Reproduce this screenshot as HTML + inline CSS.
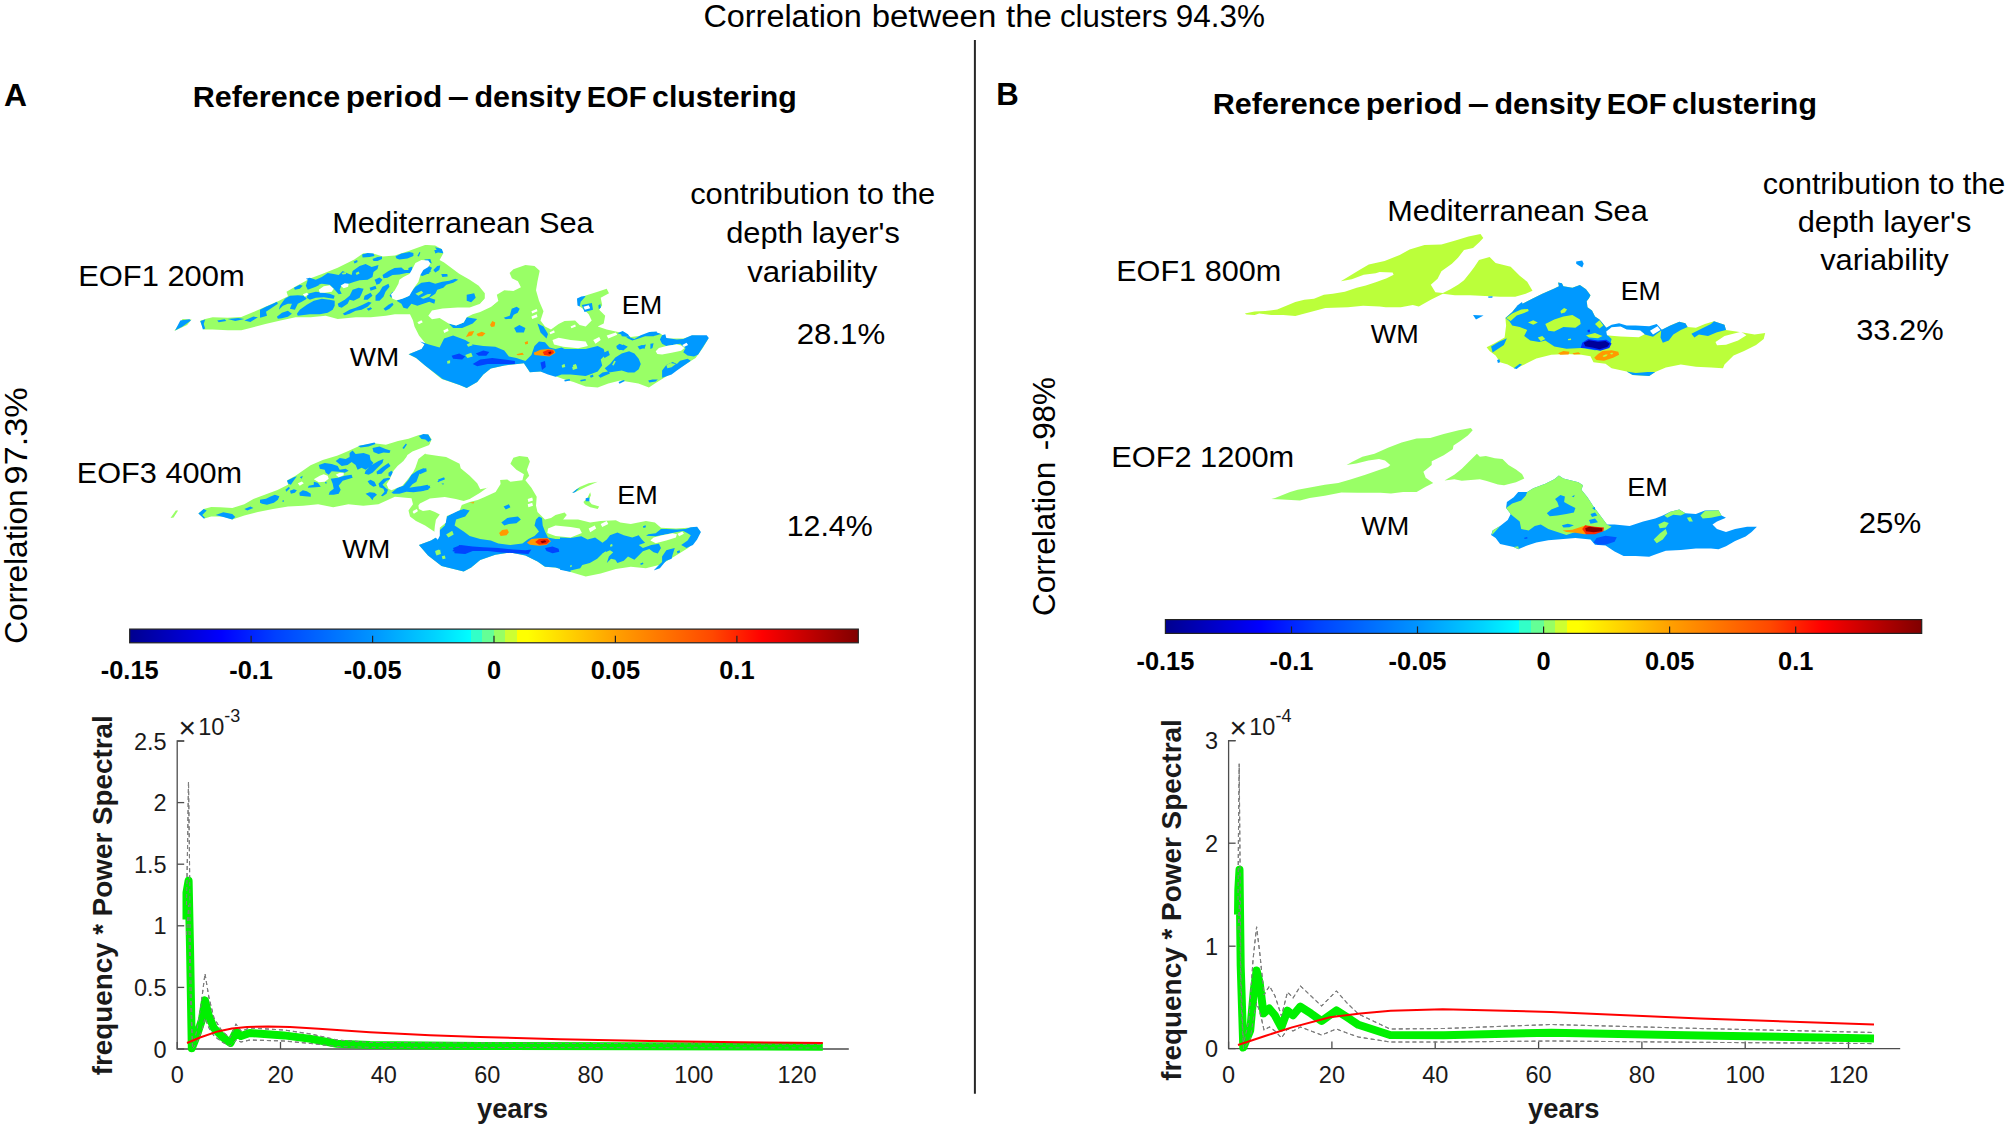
<!DOCTYPE html>
<html lang="en"><head><meta charset="utf-8"><title>Density EOF clustering – reference period</title>
<style>
html,body{margin:0;padding:0;background:#fff;}
body{width:2008px;height:1129px;overflow:hidden;font-family:"Liberation Sans", Arial, sans-serif;}
svg{display:block;}
text{white-space:pre;}
</style></head><body>
<svg width="2008" height="1129" viewBox="0 0 2008 1129" font-family='"Liberation Sans", Arial, sans-serif'>
<g id="labels">
<text x="703.4" y="27.2" font-size="31"><tspan x="703.4" textLength="158.5" lengthAdjust="spacingAndGlyphs">Correlation</tspan> <tspan x="871.7" textLength="124.6" lengthAdjust="spacingAndGlyphs">between</tspan> <tspan x="1006.0" textLength="45.8" lengthAdjust="spacingAndGlyphs">the</tspan> <tspan x="1060.0" textLength="107.6" lengthAdjust="spacingAndGlyphs">clusters</tspan> <tspan x="1175.7" textLength="89.2" lengthAdjust="spacingAndGlyphs">94.3%</tspan></text>
<text x="4.0" y="105.6" font-size="31" text-anchor="start" font-weight="bold" textLength="23.0" lengthAdjust="spacingAndGlyphs">A</text>
<text x="996.2" y="105.2" font-size="31" text-anchor="start" font-weight="bold" textLength="22.5" lengthAdjust="spacingAndGlyphs">B</text>
<text x="192.5" y="107.2" font-size="29.5" font-weight="bold"><tspan x="192.7" textLength="147.6" lengthAdjust="spacingAndGlyphs">Reference</tspan> <tspan x="345.7" textLength="96.6" lengthAdjust="spacingAndGlyphs">period</tspan> <tspan x="447.7" textLength="21.2" lengthAdjust="spacingAndGlyphs">–</tspan> <tspan x="474.4" textLength="106.8" lengthAdjust="spacingAndGlyphs">density</tspan> <tspan x="586.7" textLength="59.8" lengthAdjust="spacingAndGlyphs">EOF</tspan> <tspan x="652.1" textLength="144.7" lengthAdjust="spacingAndGlyphs">clustering</tspan></text>
<text x="1212.5" y="113.7" font-size="29.5" font-weight="bold"><tspan x="1212.7" textLength="147.7" lengthAdjust="spacingAndGlyphs">Reference</tspan> <tspan x="1365.7" textLength="96.7" lengthAdjust="spacingAndGlyphs">period</tspan> <tspan x="1467.7" textLength="21.3" lengthAdjust="spacingAndGlyphs">–</tspan> <tspan x="1494.4" textLength="106.9" lengthAdjust="spacingAndGlyphs">density</tspan> <tspan x="1606.7" textLength="59.9" lengthAdjust="spacingAndGlyphs">EOF</tspan> <tspan x="1672.1" textLength="144.8" lengthAdjust="spacingAndGlyphs">clustering</tspan></text>
<text x="27.2" y="644.0" font-size="31" transform="rotate(-90 27.2 644.0)"><tspan x="27.4" textLength="154.3" lengthAdjust="spacingAndGlyphs">Correlation</tspan> <tspan x="186.8" textLength="97.2" lengthAdjust="spacingAndGlyphs">97.3%</tspan></text>
<text x="1054.7" y="616.3" font-size="31" transform="rotate(-90 1054.7 616.3)"><tspan x="1054.9" textLength="154.3" lengthAdjust="spacingAndGlyphs">Correlation</tspan> <tspan x="1220.7" textLength="73.3" lengthAdjust="spacingAndGlyphs">-98%</tspan></text>
<text x="332.2" y="232.5" font-size="30.4" text-anchor="start" textLength="261.5" lengthAdjust="spacingAndGlyphs">Mediterranean Sea</text>
<text x="78.2" y="286.0" font-size="30.4" text-anchor="start" textLength="166.5" lengthAdjust="spacingAndGlyphs">EOF1 200m</text>
<text x="812.7" y="204.0" font-size="30.4" text-anchor="middle" textLength="245.1" lengthAdjust="spacingAndGlyphs">contribution to the</text>
<text x="813.0" y="242.5" font-size="30.4" text-anchor="middle" textLength="173.6" lengthAdjust="spacingAndGlyphs">depth layer's</text>
<text x="812.2" y="281.5" font-size="30.4" text-anchor="middle" textLength="130.1" lengthAdjust="spacingAndGlyphs">variability</text>
<text x="796.7" y="344.0" font-size="30.4" text-anchor="start" textLength="88.5" lengthAdjust="spacingAndGlyphs">28.1%</text>
<text x="621.7" y="314.0" font-size="25.5" text-anchor="start" textLength="40.5" lengthAdjust="spacingAndGlyphs">EM</text>
<text x="349.7" y="366.0" font-size="25.5" text-anchor="start" textLength="49.5" lengthAdjust="spacingAndGlyphs">WM</text>
<text x="76.7" y="482.5" font-size="30.4" text-anchor="start" textLength="165.5" lengthAdjust="spacingAndGlyphs">EOF3 400m</text>
<text x="617.2" y="504.0" font-size="25.5" text-anchor="start" textLength="40.5" lengthAdjust="spacingAndGlyphs">EM</text>
<text x="342.2" y="557.5" font-size="25.5" text-anchor="start" textLength="48.0" lengthAdjust="spacingAndGlyphs">WM</text>
<text x="786.7" y="536.0" font-size="30.4" text-anchor="start" textLength="86.0" lengthAdjust="spacingAndGlyphs">12.4%</text>
<text x="1387.2" y="221.0" font-size="30.4" text-anchor="start" textLength="260.5" lengthAdjust="spacingAndGlyphs">Mediterranean Sea</text>
<text x="1116.2" y="281.0" font-size="30.4" text-anchor="start" textLength="165.0" lengthAdjust="spacingAndGlyphs">EOF1 800m</text>
<text x="1884.0" y="194.0" font-size="30.4" text-anchor="middle" textLength="242.6" lengthAdjust="spacingAndGlyphs">contribution to the</text>
<text x="1884.5" y="231.5" font-size="30.4" text-anchor="middle" textLength="173.6" lengthAdjust="spacingAndGlyphs">depth layer's</text>
<text x="1884.5" y="270.0" font-size="30.4" text-anchor="middle" textLength="128.6" lengthAdjust="spacingAndGlyphs">variability</text>
<text x="1856.2" y="340.0" font-size="30.4" text-anchor="start" textLength="87.5" lengthAdjust="spacingAndGlyphs">33.2%</text>
<text x="1620.7" y="300.0" font-size="25.5" text-anchor="start" textLength="40.0" lengthAdjust="spacingAndGlyphs">EM</text>
<text x="1370.7" y="342.5" font-size="25.5" text-anchor="start" textLength="48.0" lengthAdjust="spacingAndGlyphs">WM</text>
<text x="1111.2" y="466.5" font-size="30.4" text-anchor="start" textLength="183.0" lengthAdjust="spacingAndGlyphs">EOF2 1200m</text>
<text x="1627.2" y="496.0" font-size="25.5" text-anchor="start" textLength="40.5" lengthAdjust="spacingAndGlyphs">EM</text>
<text x="1361.2" y="535.0" font-size="25.5" text-anchor="start" textLength="48.0" lengthAdjust="spacingAndGlyphs">WM</text>
<text x="1858.7" y="532.5" font-size="30.4" text-anchor="start" textLength="62.5" lengthAdjust="spacingAndGlyphs">25%</text>
</g>
<line x1="974.9" y1="40" x2="974.9" y2="1093.7" stroke="#262626" stroke-width="2"/>
<defs><linearGradient id="jet" x1="0" x2="1" y1="0" y2="0">
<stop offset="0" stop-color="#00008f"/><stop offset="0.126" stop-color="#0000ff"/>
<stop offset="0.2" stop-color="#0040ff"/><stop offset="0.333" stop-color="#0094ff"/>
<stop offset="0.42" stop-color="#00d4ff"/><stop offset="0.4682" stop-color="#00ffff"/>
<stop offset="0.4682" stop-color="#32ffc8"/><stop offset="0.4839" stop-color="#32ffc8"/>
<stop offset="0.4839" stop-color="#64ff96"/><stop offset="0.5003" stop-color="#64ff96"/>
<stop offset="0.5003" stop-color="#96ff64"/><stop offset="0.5155" stop-color="#96ff64"/>
<stop offset="0.5155" stop-color="#cdff32"/><stop offset="0.5309" stop-color="#cdff32"/>
<stop offset="0.5309" stop-color="#ffff00"/><stop offset="0.5461" stop-color="#ffff00"/>
<stop offset="0.667" stop-color="#ffa000"/>
<stop offset="0.8" stop-color="#ff4800"/><stop offset="0.868" stop-color="#ff0000"/>
<stop offset="1" stop-color="#800000"/></linearGradient></defs>
<g id="colorbars">
<rect x="129.7" y="629.1" width="728.6" height="13.7" fill="url(#jet)" stroke="#222" stroke-width="1.2"/>
<text x="129.7" y="678.5" font-size="25.4" text-anchor="middle" font-weight="bold">-0.15</text>
<line x1="251.1" y1="635.8" x2="251.1" y2="642.8" stroke="#222" stroke-width="1.2"/>
<text x="251.1" y="678.5" font-size="25.4" text-anchor="middle" font-weight="bold">-0.1</text>
<line x1="372.6" y1="635.8" x2="372.6" y2="642.8" stroke="#222" stroke-width="1.2"/>
<text x="372.6" y="678.5" font-size="25.4" text-anchor="middle" font-weight="bold">-0.05</text>
<line x1="494.0" y1="635.8" x2="494.0" y2="642.8" stroke="#222" stroke-width="1.2"/>
<text x="494.0" y="678.5" font-size="25.4" text-anchor="middle" font-weight="bold">0</text>
<line x1="615.4" y1="635.8" x2="615.4" y2="642.8" stroke="#222" stroke-width="1.2"/>
<text x="615.4" y="678.5" font-size="25.4" text-anchor="middle" font-weight="bold">0.05</text>
<line x1="736.9" y1="635.8" x2="736.9" y2="642.8" stroke="#222" stroke-width="1.2"/>
<text x="736.9" y="678.5" font-size="25.4" text-anchor="middle" font-weight="bold">0.1</text>
<rect x="1165.4" y="619.6" width="756.3" height="13.8" fill="url(#jet)" stroke="#222" stroke-width="1.2"/>
<text x="1165.4" y="669.6" font-size="25.4" text-anchor="middle" font-weight="bold">-0.15</text>
<line x1="1291.5" y1="626.4" x2="1291.5" y2="633.4" stroke="#222" stroke-width="1.2"/>
<text x="1291.5" y="669.6" font-size="25.4" text-anchor="middle" font-weight="bold">-0.1</text>
<line x1="1417.5" y1="626.4" x2="1417.5" y2="633.4" stroke="#222" stroke-width="1.2"/>
<text x="1417.5" y="669.6" font-size="25.4" text-anchor="middle" font-weight="bold">-0.05</text>
<line x1="1543.6" y1="626.4" x2="1543.6" y2="633.4" stroke="#222" stroke-width="1.2"/>
<text x="1543.6" y="669.6" font-size="25.4" text-anchor="middle" font-weight="bold">0</text>
<line x1="1669.6" y1="626.4" x2="1669.6" y2="633.4" stroke="#222" stroke-width="1.2"/>
<text x="1669.6" y="669.6" font-size="25.4" text-anchor="middle" font-weight="bold">0.05</text>
<line x1="1795.7" y1="626.4" x2="1795.7" y2="633.4" stroke="#222" stroke-width="1.2"/>
<text x="1795.7" y="669.6" font-size="25.4" text-anchor="middle" font-weight="bold">0.1</text>
</g>
<g id="maps"><g id="mapA1"><path d="M199.9 321.1L205.2 318.9L212.7 317.3L227.8 317.7L241.3 317.0L253.4 312.1L265.4 306.8L277.5 301.5L288.0 296.3L286.5 291.7L295.5 286.5L310.6 278.2L322.7 273.7L337.7 267.7L354.3 259.4L363.3 253.3L373.9 253.8L382.9 256.4L394.9 255.6L408.5 251.1L425.1 245.1L427.5 245.1L435.1 245.5L441.1 248.8L443.3 253.3L439.6 260.1L444.1 262.4L459.2 273.7L469.7 279.7L478.7 285.7L484.8 293.3L484.8 299.3L480.2 303.8L490.8 306.8L498.3 300.8L496.8 294.8L504.3 290.2L513.4 291.0L520.9 287.2L517.9 281.2L511.9 278.2L509.6 272.9L513.4 269.2L525.4 264.9L534.5 266.1L539.7 270.7L537.5 281.2L536.0 290.2L539.0 300.8L543.5 311.3L540.5 320.4L545.0 326.4L551.0 329.4L558.6 324.1L564.6 321.1L575.1 320.4L579.6 324.9L585.7 326.4L591.7 320.4L588.7 314.3L584.2 309.8L578.1 305.3L577.4 299.3L585.7 295.5L597.7 291.7L606.7 288.7L609.0 293.3L600.7 297.8L602.2 305.3L599.2 309.8L605.2 315.8L603.7 323.4L597.7 326.4L606.7 329.4L620.3 332.4L630.8 336.9L642.9 335.4L651.9 331.7L661.0 333.9L667.0 338.4L683.6 338.4L692.6 335.4L706.1 336.2L708.4 338.4L703.1 347.5L695.6 358.0L683.6 365.5L667.0 376.1L654.9 383.6L648.9 387.4L638.4 383.6L620.3 380.6L608.3 383.6L597.7 387.4L585.7 386.6L573.6 382.1L563.1 379.1L551.0 374.6L540.5 371.6L529.9 372.3L523.9 363.3L504.3 365.5L490.8 368.6L483.3 374.6L477.2 382.1L466.7 388.1L459.7 385.1L441.6 379.1L425.1 365.5L416.0 358.0L408.5 354.2L422.0 349.0L425.1 343.0L419.0 335.4L414.5 326.4L413.0 320.4L410.0 314.3L394.9 314.3L385.9 315.8L370.8 317.3L355.8 317.3L337.7 318.9L325.7 315.8L310.6 317.3L295.5 317.3L280.5 320.4L265.4 324.1L250.4 327.9L241.3 330.2L227.8 330.2L212.7 329.4L203.7 329.4ZM174.3 330.9L182.6 318.9L191.6 319.6L187.1 324.9Z" fill="#99ff66"/><path d="M420.0 341.4L429.0 344.5L439.6 347.5L444.1 338.4L453.1 335.4L465.2 339.9L472.7 344.5L483.3 346.0L495.3 346.7L504.3 350.5L508.9 356.5L516.4 358.0L525.4 361.0L531.4 355.0L534.5 346.0L539.0 341.4L545.0 342.2L549.5 347.5L555.5 349.0L561.6 347.5L564.6 349.0L570.6 349.0L585.7 349.0L597.7 346.0L603.7 349.0L605.2 355.0L600.7 359.5L602.2 365.5L597.7 371.6L585.7 376.1L570.6 374.6L561.6 374.6L555.5 376.8L548.0 374.6L540.5 371.6L529.9 372.3L523.9 363.3L504.3 365.5L490.8 368.6L483.3 374.6L477.2 382.1L466.7 388.1L459.6 385.1L442.6 379.1L425.0 365.5L416.2 358.0L408.7 354.2L421.5 349.0L424.5 344.5ZM420.0 269.2L426.0 264.6L432.0 267.7L429.0 273.7L420.0 275.2ZM466.7 294.8L474.2 293.3L475.7 297.8L471.2 302.3L466.7 300.8ZM448.6 323.4L456.1 325.6L463.7 322.6L466.7 317.3L477.2 318.9L472.7 323.4L462.2 327.9L453.1 327.9ZM511.7 308.7L516.7 306.7L519.7 308.7L517.7 312.7L513.7 314.7L511.7 318.7L505.7 319.2L503.7 317.7L509.7 315.7ZM514.1 327.9L519.4 324.9L525.4 327.9L523.9 332.4L516.4 332.4ZM537.5 323.4L543.5 326.4L548.0 333.9L546.5 338.4L540.5 332.4ZM620.3 332.4L630.8 336.9L621.8 336.2ZM648.9 332.7L654.9 331.7L661.0 333.9L654.9 335.7ZM577.4 299.3L585.7 296.3L579.6 303.0ZM582.7 305.3L590.2 303.8L591.7 308.3L585.7 311.3ZM435.1 247.3L441.1 248.8L443.3 253.3L438.1 252.6ZM602.2 353.5L608.3 350.5L609.8 355.0L604.5 358.0ZM618.8 349.0L623.3 344.5L627.8 346.7L623.3 350.5ZM639.9 346.0L645.9 344.5L644.4 349.0ZM668.5 365.5L676.0 364.0L674.5 370.1L668.5 371.6ZM616.3 345.9L619.5 343.8L622.7 344.9L623.8 348.0L619.5 350.2L616.9 348.6ZM637.6 346.4L641.9 344.9L645.1 345.4L644.0 348.0L639.7 349.6ZM650.4 343.8L653.6 343.3L652.5 348.0L650.4 349.1ZM617.4 333.2L622.7 331.0L628.0 334.2L630.2 337.4L634.4 339.0L640.8 335.3L649.3 332.1L656.7 331.6L657.3 334.2L653.6 336.3L645.1 336.3L638.7 338.5L632.3 340.6L628.0 338.5L623.8 335.3ZM662.1 335.3L665.3 334.2L666.3 337.9L676.9 339.5L683.3 339.0L691.8 335.3L706.7 335.3L708.8 337.9L698.2 354.4L694.0 356.5L687.6 355.5L683.3 352.3L685.5 348.0L680.1 343.8L666.3 345.9L662.1 343.8L659.9 339.5ZM662.1 370.4L666.3 365.1L672.7 361.9L676.9 364.0L680.1 360.8L687.6 358.7L690.8 360.8L676.9 370.4L671.6 374.6L662.1 377.8ZM648.2 380.5L652.5 379.4L657.8 379.4L655.7 381.5L649.3 382.6ZM618.5 382.1L623.8 379.9L624.9 381.0L619.5 383.7ZM598.3 375.7L602.5 372.5L607.8 371.4L610.0 373.6L604.7 375.7L600.4 377.8ZM589.8 375.7L593.0 374.6L593.5 376.7L590.8 377.8ZM577.0 298.6L581.3 296.5L585.5 295.9L581.3 299.1L579.7 306.6L577.5 305.5ZM581.8 305.0L591.9 302.9L593.0 309.8L584.5 311.9ZM598.3 305.5L600.4 303.9L600.9 307.6L598.8 309.2ZM604.7 368.2L610.0 364.0L615.3 357.6L621.7 353.4L629.1 351.2L634.4 353.4L638.7 358.7L640.8 364.0L638.7 369.3L634.4 372.5L628.0 372.5L621.7 370.4L615.3 371.4L608.9 372.5ZM564.3 379.9L569.6 378.9L570.1 380.5L564.8 381.5ZM580.2 379.9L585.5 378.9L586.0 380.5L580.7 381.5ZM362.1 254.4L367.6 252.9L373.5 253.4L374.5 255.9L369.6 256.9L362.6 257.4ZM372.5 258.9L377.5 256.9L382.0 256.4L382.0 258.9L377.5 260.9L373.5 260.9ZM353.6 261.4L357.1 259.9L357.6 261.9L354.6 263.4ZM352.6 270.9L359.6 265.9L365.6 263.9L371.6 266.9L378.5 264.9L377.5 268.9L373.5 271.9L372.5 276.9L367.6 279.8L359.6 280.3L354.6 281.8L348.6 283.8L341.7 284.8L339.7 289.8L341.7 293.8L338.7 294.3L334.7 289.8L329.7 284.8L321.8 283.8L315.8 286.8L307.8 289.8L305.8 285.8L307.8 279.8L305.8 278.8L309.8 277.8L315.8 279.8L321.8 276.9L327.7 272.9L333.7 273.9L338.7 274.9L342.7 270.9L346.7 272.9L351.6 274.9ZM293.9 287.8L299.8 284.8L302.8 285.8L299.8 288.8L294.9 289.8ZM296.9 313.7L299.8 309.7L306.8 304.7L313.8 300.8L321.8 298.8L329.7 299.8L334.7 300.8L334.7 305.7L332.7 309.7L327.7 312.7L319.8 314.2L309.8 314.2L301.8 315.2L297.8 315.7ZM307.8 293.8L315.8 291.8L323.7 292.8L329.7 293.8L334.7 295.8L333.7 298.8L323.7 297.3L315.8 297.8L309.8 299.8L306.8 297.8ZM260.0 309.7L266.0 306.7L272.9 303.7L276.9 301.8L277.9 303.7L272.0 307.7L266.0 311.7L267.0 315.7L262.0 317.2L260.0 317.7ZM284.9 298.8L289.9 295.8L297.8 295.3L303.8 295.8L306.8 298.8L301.8 301.8L297.8 303.7L294.9 309.7L289.9 308.7L291.9 303.7L287.9 303.7L282.9 305.7L278.9 309.7L279.9 305.7ZM276.9 316.7L281.9 312.7L287.9 310.7L291.9 313.7L287.9 316.7L281.9 318.2L277.9 318.7ZM337.7 303.7L344.7 299.8L349.6 295.8L352.6 289.8L358.6 287.8L363.6 288.8L361.6 293.8L359.6 297.8L353.6 300.8L349.6 299.8L347.6 303.7L341.7 307.7L338.7 306.7ZM342.7 313.7L349.6 309.7L355.6 307.7L362.6 304.7L368.6 301.8L371.6 302.7L367.6 306.7L361.6 309.7L355.6 310.7L349.6 313.7L344.7 315.2ZM374.5 279.8L379.5 277.4L382.5 279.8L379.5 283.8L376.5 284.8L375.5 281.8ZM382.5 274.9L388.5 270.9L394.5 267.9L401.4 267.4L404.4 269.9L409.4 269.9L412.4 266.9L411.4 272.9L406.4 272.9L399.4 274.4L392.5 274.9L387.5 277.8L383.5 278.3ZM375.5 295.8L379.5 291.8L382.5 286.8L388.5 283.8L389.5 286.8L385.5 291.8L383.5 296.8L379.5 300.8L375.5 300.8ZM383.5 308.7L388.5 304.7L392.5 302.7L393.5 304.7L389.5 308.7L385.5 310.7ZM366.6 308.7L370.6 307.2L372.1 308.7L368.6 310.7ZM396.5 300.8L401.4 298.8L407.4 296.8L411.4 291.8L415.4 286.8L421.4 282.8L429.3 281.8L435.3 283.8L442.3 281.8L449.2 280.8L455.2 278.8L458.2 279.8L453.2 282.8L446.3 284.8L443.3 287.8L437.3 289.8L435.3 293.8L429.3 297.8L435.3 299.8L434.3 303.7L429.3 301.8L423.3 303.7L417.4 305.7L411.4 303.7L407.4 308.7L403.4 307.7L401.4 303.7ZM395.5 256.4L401.4 253.4L409.4 252.0L413.4 252.9L413.4 255.9L407.4 258.4L399.4 259.4L396.5 258.4ZM434.3 250.0L438.3 248.0L441.8 249.0L443.3 252.9L439.3 252.0L435.3 253.4ZM421.4 271.9L425.3 268.9L429.3 268.9L431.3 270.9L427.3 273.9L422.4 275.9L419.4 274.9ZM433.3 269.9L437.3 265.9L440.3 265.4L439.3 269.9L435.3 272.4ZM441.3 273.9L447.3 273.9L447.7 276.4L442.3 276.9ZM424.3 259.4L430.3 258.9L431.8 263.4L429.3 262.4L425.3 260.9ZM408.4 267.9L412.4 266.4L411.4 270.9L408.4 271.9ZM417.4 255.9L419.4 252.0L420.4 252.5L418.9 256.4ZM369.6 287.8L375.5 285.8L376.5 288.8L370.6 290.8ZM364.6 295.8L370.6 292.8L372.5 295.8L367.6 299.8L363.6 299.8ZM389.5 295.8L392.5 291.8L394.0 293.8L391.5 297.8ZM180.3 320.4L189.4 319.2L190.9 320.4L182.6 326.4L175.1 330.6ZM200.4 321.1L205.2 319.6L203.7 324.1L205.2 328.6L202.9 329.4ZM227.8 318.9L238.3 318.1L244.3 318.9L235.3 321.1ZM244.3 320.4L253.4 316.6L257.9 317.3L250.4 321.9ZM217.2 320.4L224.8 319.2L226.3 321.1L218.7 322.2Z" fill="#0099ff"/><path d="M415.4 293.8L421.4 290.8L423.3 292.8L418.4 295.8ZM420.4 297.8L427.3 294.3L431.3 293.8L429.3 296.8L423.3 298.8ZM355.6 272.9L358.6 271.4L359.6 273.4L356.6 274.9ZM341.7 272.9L345.7 271.9L346.2 273.9L342.7 274.4ZM318.8 284.8L321.8 283.8L322.3 285.8L319.3 286.3ZM612.1 365.1L614.2 360.8L615.8 361.3L613.7 365.6ZM666.3 365.1L670.6 362.9L675.9 364.0L671.6 367.2L667.4 368.2ZM572.8 365.1L575.9 364.0L577.0 367.2L573.8 368.2ZM562.1 365.1L564.3 364.0L564.8 366.1L562.7 367.2ZM466.7 344.5L471.2 342.2L472.7 345.2L468.2 346.7ZM465.2 355.0L471.2 352.7L472.7 356.5L467.4 358.0ZM447.1 361.0L450.1 360.3L450.1 363.3L447.4 363.7ZM561.6 365.5L564.6 364.0L565.3 367.0L562.3 367.8ZM572.1 367.0L576.6 365.5L577.4 368.6L572.9 370.1Z" fill="#99ff66"/><path d="M451.6 355.8L459.2 353.5L465.2 356.5L462.2 359.5L453.1 358.8ZM472.7 364.0L480.2 359.5L492.3 358.0L504.3 359.5L514.9 361.0L514.9 364.0L501.3 364.0L487.8 364.0L477.2 366.3ZM475.7 353.5L483.3 350.5L489.3 352.0L486.3 355.8L478.7 355.8ZM540.5 362.5L545.0 361.0L545.8 367.0L542.0 370.1Z" fill="#0044ff"/><path d="M465.9 336.9L468.9 331.7L474.2 330.9L472.0 335.4ZM476.5 333.9L481.7 331.7L485.5 333.2L482.5 336.2L478.0 336.2ZM490.0 324.9L492.3 321.1L495.3 322.6L494.5 326.4L491.5 327.1ZM524.7 342.2L527.7 341.1L528.1 343.7L525.4 344.5ZM516.4 354.2L522.4 352.7L523.9 354.7L517.9 355.3ZM533.7 352.7L540.5 349.7L548.0 349.0L554.0 349.7L555.5 352.7L549.5 356.5L542.0 355.8L534.5 355.0Z" fill="#ff9a00"/><path d="M542.7 352.0L548.0 349.7L553.3 350.5L554.0 352.7L549.5 355.8L544.2 355.0Z" fill="#ff2a00"/><path d="M548.3 352.0L551.0 351.5L551.3 353.5L548.9 353.9Z" fill="#8a0000"/><path d="M415.4 262.9L421.4 259.9L428.3 260.4L430.3 263.4L428.3 266.9L423.3 269.9L420.4 274.9L418.4 281.8L413.4 288.8L409.4 295.8L402.4 298.8L396.5 300.3L392.5 298.8L391.0 294.3L394.5 290.8L398.4 283.8L399.4 279.8L403.4 276.9L409.4 273.9L412.4 268.9ZM318.8 289.8L323.7 286.3L329.7 285.3L333.7 288.8L331.7 291.8L324.7 292.8L319.8 292.8ZM340.7 285.8L344.7 283.3L348.6 283.8L348.1 286.8L343.7 288.3ZM302.8 294.3L306.8 292.8L308.8 294.3L304.8 296.8ZM417.4 322.2L421.4 320.2L422.8 322.2L418.9 324.2ZM443.3 330.6L447.3 328.6L448.2 331.1L444.3 333.1ZM498.3 300.8L490.8 307.1L480.2 312.1L472.7 314.3L466.7 317.3L463.7 322.6L456.1 325.6L448.6 323.4L439.6 318.1L432.0 319.2L428.3 315.8L432.0 310.6L442.6 308.6L457.7 307.6L469.7 307.6L480.2 303.8L484.8 298.5ZM552.5 339.9L558.6 337.7L570.6 339.9L585.7 341.4L587.9 346.0L578.1 348.2L563.1 346.7L554.0 344.5ZM593.2 339.9L599.2 336.9L600.7 339.9L595.5 343.7ZM606.7 335.4L615.8 332.4L617.3 334.7L608.3 338.4ZM655.7 351.2L658.9 348.0L666.3 345.9L676.9 344.3L681.2 345.4L684.4 348.0L681.2 350.7L671.6 352.8L662.1 354.4L657.3 353.9ZM682.3 344.9L686.5 342.7L688.1 344.9L683.9 347.0ZM531.4 311.3L536.7 309.1L537.5 311.3L532.2 313.6ZM531.4 316.6L536.7 314.3L537.5 317.0L532.2 318.9ZM583.4 306.8L588.7 305.3L590.2 308.3L584.9 309.8ZM444.1 330.2L447.9 328.6L448.6 330.9L444.8 332.4ZM549.5 332.4L554.0 330.2L554.8 332.4L550.3 334.2ZM570.6 326.4L575.1 324.6L575.9 326.4L571.4 328.2Z" fill="#ffffff"/></g><g id="mapA2"><path d="M198.4 513.4L203.7 508.9L211.2 507.0L220.2 507.3L232.3 508.1L244.3 504.3L253.4 499.1L265.4 494.5L277.5 490.0L288.0 484.8L287.3 480.2L295.5 475.7L310.6 465.2L322.7 459.9L337.7 455.4L348.3 450.9L360.3 445.6L373.9 443.3L385.9 444.8L398.0 441.1L408.5 438.8L419.0 435.1L428.1 434.3L431.8 439.6L429.6 444.8L425.1 453.9L438.6 456.1L446.1 456.9L459.6 463.7L460.7 468.2L469.7 475.7L477.2 483.3L480.2 489.3L495.3 486.3L496.8 480.2L507.3 479.5L510.4 481.7L522.4 480.2L523.9 474.2L516.4 469.7L510.4 463.7L513.4 457.7L519.4 456.1L527.7 456.9L529.9 461.4L526.9 469.7L529.2 475.7L525.4 480.2L531.4 487.8L536.7 496.8L536.0 505.8L537.5 511.9L545.0 519.4L551.0 517.9L555.5 514.9L564.6 512.6L566.8 514.9L563.1 519.4L578.1 519.4L590.2 522.4L600.7 520.9L615.8 520.2L620.3 522.4L630.8 523.9L645.9 520.9L654.9 522.4L661.0 527.7L676.0 528.4L688.1 527.7L697.1 527.2L700.4 532.2L695.6 540.5L688.1 548.0L676.0 555.5L661.0 564.6L645.9 568.3L630.8 566.8L615.8 569.1L600.7 573.6L585.7 576.6L570.6 572.1L555.5 567.6L545.0 566.8L537.5 561.6L525.4 555.5L510.4 552.5L495.3 554.8L480.2 560.1L471.2 567.6L463.7 571.4L459.7 570.6L441.6 566.1L428.1 555.5L419.0 545.0L431.1 540.5L438.6 536.0L434.1 531.4L425.1 525.4L416.0 520.9L410.0 516.4L408.5 510.4L413.0 504.3L411.5 498.3L394.9 496.8L378.4 504.3L363.3 505.8L348.3 504.3L333.2 507.3L318.1 504.3L303.1 505.8L288.0 506.6L273.0 508.9L257.9 511.9L244.3 515.6L232.3 519.4L223.3 516.4L211.2 516.4L204.4 518.6L200.7 514.9ZM170.5 517.9L175.8 510.4L178.1 510.4L173.6 517.6ZM572.1 493.0L579.6 487.0L588.7 483.3L597.7 481.7L585.7 487.0L576.6 491.5ZM583.4 502.1L587.2 498.3L590.2 492.3L590.9 495.3L588.7 500.6L591.7 504.3L599.2 506.6L597.7 508.9L590.2 507.3L584.9 504.3Z" fill="#99ff66"/><path d="M447.1 516.4L454.6 511.9L463.7 508.9L469.7 510.4L465.2 516.4L456.1 519.4L454.6 525.4L463.7 531.4L469.7 536.0L480.2 539.0L490.8 540.5L498.3 543.5L510.4 545.0L522.4 543.5L528.4 539.0L534.5 536.0L539.0 531.4L534.5 525.4L536.0 519.4L539.0 516.4L542.0 517.9L542.7 525.4L545.0 531.4L548.0 537.5L555.5 539.0L570.6 538.2L570.6 572.1L555.5 567.6L545.0 566.8L537.5 561.6L525.4 555.5L510.4 552.5L495.3 554.8L480.2 560.1L471.2 567.6L463.7 571.4L459.6 570.6L441.5 566.1L428.0 555.5L418.9 545.0L431.0 540.5L438.5 536.0L435.1 534.5L444.8 525.4L446.4 517.9ZM560.0 537.4L570.6 537.9L581.3 536.3L587.6 539.5L595.1 537.4L602.5 542.7L606.8 539.5L610.0 535.3L617.4 532.6L623.8 535.3L632.3 537.4L638.7 535.3L641.9 539.5L645.1 542.7L638.7 544.9L642.9 548.0L651.4 544.9L658.9 543.8L661.0 548.0L657.8 553.4L653.6 552.3L649.3 549.1L642.9 551.2L638.7 555.5L634.4 559.7L628.0 556.5L623.8 560.8L617.4 562.9L615.3 559.7L611.0 558.7L606.8 562.9L608.9 556.5L613.2 552.3L610.0 550.2L602.5 553.4L597.2 558.7L589.8 562.9L582.3 565.1L580.2 568.2L570.6 570.4L568.5 571.6L560.0 569.8ZM661.0 528.9L666.3 528.9L676.9 529.4L685.5 528.9L690.8 527.3L697.1 526.8L700.9 532.1L697.1 539.5L692.9 544.9L686.5 548.0L681.2 544.9L687.6 540.6L690.8 535.3L687.6 533.2L683.3 531.0L676.9 532.1L666.3 534.2L655.7 536.3L646.1 535.8L648.2 534.2L655.7 533.2ZM662.1 556.5L666.3 550.2L670.6 549.1L674.8 548.0L672.7 554.4L671.6 558.7L666.3 560.8L664.2 562.9L659.9 568.2L653.6 570.4L658.9 565.1L662.1 561.9ZM676.9 551.2L679.6 550.2L680.1 552.3L677.5 553.4ZM640.3 563.5L642.9 562.4L643.5 564.0L640.8 565.1ZM642.9 526.2L645.6 525.2L645.9 527.3L643.5 528.1ZM501.3 522.4L507.3 517.9L517.9 516.4L520.9 519.4L516.4 523.2L508.9 523.9L504.3 525.4ZM503.6 506.6L508.9 504.3L510.4 507.3L505.8 509.6ZM420.0 469.7L426.0 468.2L426.8 471.2L420.0 474.2ZM420.0 486.3L427.5 484.8L430.5 487.8L424.5 490.8L420.0 491.5ZM438.1 479.5L444.1 477.2L444.8 479.5L438.8 481.7ZM585.7 498.3L589.4 497.6L589.4 501.3L585.7 501.3ZM572.1 493.0L576.6 489.3L579.6 487.8L575.1 492.3ZM418.9 436.0L423.3 434.0L428.3 434.5L431.3 440.0L428.3 442.0L425.3 439.5L421.4 439.0ZM358.1 445.9L365.6 444.4L374.5 442.5L375.5 443.9L368.6 446.4L360.6 447.4ZM372.5 447.9L379.5 446.4L385.5 448.9L390.5 450.4L389.5 452.9L383.5 452.4L378.5 453.9L373.5 451.9ZM349.6 452.9L352.6 450.4L355.6 453.9L363.6 452.9L369.6 454.9L370.6 459.9L373.5 462.9L369.6 466.9L365.6 469.8L361.6 467.8L357.6 469.8L355.6 464.9L351.6 461.9L347.6 464.9L341.7 465.9L335.7 460.9L339.7 457.9L345.7 458.9L349.6 456.9ZM318.8 464.9L324.7 462.9L331.7 463.9L337.7 465.9L339.7 469.8L345.7 468.8L348.6 470.8L344.7 472.8L338.7 471.8L331.7 471.3L328.7 474.8L325.7 472.8L324.7 469.8L319.8 468.8ZM365.6 470.8L371.6 464.9L378.5 460.9L383.5 458.9L382.5 462.9L377.5 467.8L372.5 472.8L368.6 474.8L364.6 473.8ZM376.5 471.8L382.5 466.9L388.5 462.9L390.5 465.9L385.5 469.8L381.5 473.8L377.0 474.3ZM388.5 472.8L391.5 470.8L393.0 472.8L390.5 476.8L388.5 475.8ZM400.4 463.9L403.9 460.9L405.4 462.9L402.4 465.4ZM402.4 447.9L405.9 443.4L406.9 444.4L403.9 448.9ZM286.9 480.8L293.9 477.3L296.9 476.3L292.9 481.8L290.9 484.8L288.4 483.8ZM299.8 477.3L302.8 475.8L301.8 478.8ZM313.8 481.8L317.8 482.8L320.8 486.8L315.8 487.3L307.8 487.8L308.8 485.8L313.8 484.8ZM330.7 478.8L337.7 477.8L344.7 475.8L351.6 474.8L352.6 477.8L347.6 479.3L342.7 480.8L338.7 485.8L340.7 489.8L338.7 493.7L333.7 494.7L328.7 494.7L329.7 491.8L333.7 488.8L332.7 483.8ZM289.9 490.8L293.9 489.3L296.9 490.3L294.9 492.7L290.9 493.7ZM299.3 492.7L302.8 490.3L306.8 491.3L310.8 493.7L310.8 496.7L304.8 496.2L299.8 495.7ZM285.4 489.8L288.9 486.8L289.9 488.3L286.4 491.8ZM260.0 499.7L266.0 498.7L270.0 496.7L274.9 494.7L279.4 496.2L277.9 499.7L273.9 502.7L267.0 504.7L262.0 503.7L260.0 502.7ZM282.4 500.5L283.9 500.2L283.9 501.7L282.4 501.7ZM367.6 481.3L370.6 479.8L374.5 481.8L376.5 485.8L373.5 486.8L369.6 484.3ZM365.6 493.7L369.6 492.3L374.5 492.7L377.0 494.7L373.5 497.7L372.5 500.2L369.6 496.7ZM378.5 483.8L383.5 478.8L388.5 477.8L391.5 478.8L386.5 480.8L382.5 484.8L385.5 487.8L388.0 489.8L386.5 493.7L382.5 496.2L381.0 495.7L384.5 491.8L383.5 488.8L379.5 487.3ZM391.5 492.7L397.5 487.8L403.4 485.8L408.4 479.8L411.4 474.8L417.4 470.8L423.3 468.3L426.8 468.8L425.3 471.3L419.4 473.8L417.9 477.8L416.4 481.8L412.4 484.3L409.4 487.8L415.4 486.8L423.3 485.8L430.3 485.8L428.3 489.8L421.4 491.3L413.4 492.3L406.4 491.8L399.4 493.7L393.5 493.7ZM437.3 481.3L441.3 478.8L445.3 478.3L441.8 480.3L438.3 482.3ZM441.3 483.8L443.8 483.3L443.3 484.8ZM324.7 482.3L326.7 481.8L326.2 484.3ZM215.7 514.9L223.3 512.2L232.3 514.1L235.3 517.1L232.3 519.4L223.3 517.1ZM198.4 513.4L203.7 508.9L206.7 510.4L202.2 514.9L205.2 517.9L203.7 518.6ZM244.3 508.9L250.4 506.6L253.4 508.1L247.3 510.4Z" fill="#0099ff"/><path d="M441.8 556.3L444.8 555.5L445.6 558.6L442.6 559.3ZM435.1 551.0L438.8 549.5L439.6 553.3L435.8 554.0ZM610.0 544.9L612.1 543.8L612.6 545.9L610.5 547.0ZM602.5 553.4L605.7 551.2L606.8 554.4L603.6 556.5ZM570.1 565.6L571.7 565.1L571.9 566.6L570.3 567.2ZM446.1 534.5L452.2 530.7L453.7 534.5L448.4 537.5ZM435.6 552.5L440.1 549.5L440.9 554.0L436.4 555.5Z" fill="#99ff66"/><path d="M453.1 548.0L460.7 545.0L472.7 546.5L483.3 547.3L498.3 548.0L513.4 549.5L525.4 550.3L531.4 549.5L528.4 554.0L516.4 553.3L501.3 552.5L487.8 551.0L472.7 551.0L465.2 554.0L454.6 553.3ZM545.0 548.0L552.5 546.5L558.6 548.8L559.3 551.8L552.5 553.3L546.5 551.0ZM452.2 551.0L459.7 545.0L459.7 553.3Z" fill="#0044ff"/><path d="M499.1 533.0L502.1 529.9L507.3 529.2L508.9 532.2L506.6 535.2L500.6 536.0ZM526.9 542.7L531.4 539.0L539.0 538.2L548.0 538.2L551.0 541.2L546.5 545.0L539.0 545.8L529.9 544.7ZM469.7 502.8L474.2 502.1L473.5 503.6Z" fill="#ff9a00"/><path d="M535.2 542.0L539.0 539.0L547.3 538.7L549.8 541.2L546.5 544.2L539.0 544.7Z" fill="#ff2a00"/><path d="M540.5 541.2L545.0 540.2L546.5 542.0L542.0 543.2Z" fill="#8a0000"/><path d="M437.3 444.9L431.3 449.9L425.3 453.4L418.4 458.9L415.4 467.8L413.4 471.8L407.4 479.8L402.4 485.8L397.5 487.8L391.5 490.3L388.5 488.8L386.5 484.3L389.5 479.8L393.5 470.8L397.5 465.9L403.4 460.9L406.4 456.9L407.4 454.9L412.4 451.4L421.4 447.9L429.3 444.9L431.8 439.5ZM419.9 503.4L429.9 498.4L444.8 497.1L455.8 498.9L463.7 501.1L469.7 498.9L479.7 492.9L489.6 486.0L495.6 480.0L499.6 476.0L500.6 484.0L495.6 492.0L484.7 496.9L477.7 499.9L469.7 502.1L461.8 505.1L459.8 509.9L453.8 512.9L446.8 515.9L445.8 522.8L439.8 527.8L439.8 535.8L437.8 539.8L433.9 535.8L434.9 525.8L435.9 519.8L439.8 514.4L434.9 511.9L429.9 509.9L422.9 510.9L418.9 508.9L418.4 505.4ZM412.9 510.9L416.9 508.9L417.9 510.9L413.9 512.9ZM548.0 528.4L555.5 525.4L570.6 526.9L579.6 528.4L581.9 533.0L570.6 537.5L555.5 536.0L547.3 533.0ZM588.7 528.4L594.7 525.4L596.2 528.4L590.2 532.2ZM600.7 523.9L606.7 520.9L608.3 523.9L602.2 526.9ZM650.4 540.6L653.6 537.4L662.1 535.3L672.7 533.2L676.9 534.2L675.9 537.4L666.3 540.6L655.7 543.3ZM677.5 533.7L682.3 531.6L683.9 533.7L679.1 536.3ZM527.7 499.1L532.2 497.6L533.0 500.6L528.4 502.1ZM527.7 504.3L532.2 502.8L533.0 505.8L528.4 507.3ZM313.8 479.3L319.8 475.8L323.7 474.3L327.7 475.8L328.7 478.8L324.7 481.8L318.8 482.3ZM335.7 474.8L339.7 472.8L343.7 472.8L343.7 475.3L338.7 477.3ZM297.8 483.3L301.8 481.6L303.8 483.3L299.8 485.8ZM412.4 511.7L416.4 509.2L417.9 511.2L413.9 513.7Z" fill="#ffffff"/></g><g id="mapB1"><path d="M1244.8 313.4L1254.6 311.4L1265.2 311.1L1277.2 309.6L1286.3 305.8L1295.3 302.1L1304.3 299.8L1314.0 298.8L1323.9 294.8L1332.8 293.8L1344.8 291.8L1356.7 287.8L1365.8 285.4L1375.7 282.3L1386.7 278.3L1393.6 274.8L1392.6 272.4L1379.6 272.1L1375.7 273.3L1363.7 274.8L1351.8 279.3L1340.8 281.3L1347.9 276.9L1359.8 269.8L1368.8 264.4L1384.6 261.0L1399.7 254.9L1409.6 249.5L1424.5 245.0L1441.4 244.5L1455.4 240.5L1468.5 236.6L1480.5 233.9L1483.3 238.1L1479.0 242.6L1473.0 247.9L1464.0 250.1L1458.0 257.7L1451.9 263.7L1441.4 271.2L1437.6 278.7L1430.8 284.8L1435.4 292.3L1442.9 293.0L1450.4 289.3L1458.0 284.8L1464.0 280.2L1470.0 272.7L1474.5 266.7L1479.0 259.9L1489.6 256.9L1495.6 262.9L1510.7 266.7L1519.7 275.7L1527.2 281.7L1532.5 290.8L1525.7 293.8L1515.2 296.8L1500.1 296.8L1485.1 296.1L1470.0 295.3L1454.9 295.3L1442.9 293.8L1430.8 299.8L1418.8 306.6L1412.8 305.1L1400.7 307.3L1385.7 307.3L1379.6 306.6L1363.1 305.8L1348.0 307.3L1325.4 308.1L1310.4 311.9L1295.3 316.1L1283.3 314.9L1271.2 314.9L1259.2 313.4L1254.6 314.9L1246.4 314.6ZM1486.6 347.3L1494.1 343.5L1504.6 337.5L1506.1 325.4L1505.4 317.9L1512.2 311.9L1516.7 306.6L1530.2 299.8L1542.3 293.8L1554.3 288.5L1558.9 286.3L1558.1 282.5L1561.9 283.3L1563.4 286.3L1572.4 287.8L1579.9 285.1L1586.0 289.3L1590.5 295.3L1589.0 298.3L1586.7 301.3L1587.5 307.3L1592.0 310.4L1595.0 316.4L1599.5 319.4L1603.3 323.9L1606.3 327.7L1611.6 325.4L1619.1 323.9L1626.6 326.2L1635.7 326.6L1649.2 327.7L1656.7 325.4L1661.3 329.9L1670.3 325.4L1679.3 321.7L1685.4 323.2L1687.6 326.9L1695.9 327.7L1704.9 323.9L1714.0 321.2L1724.5 324.7L1726.0 329.9L1741.1 332.2L1754.6 334.5L1765.2 333.0L1763.7 339.0L1756.1 345.0L1744.1 351.0L1733.6 355.5L1724.5 364.6L1723.0 368.3L1711.0 367.6L1695.9 366.8L1680.8 364.6L1665.8 367.6L1655.2 372.1L1649.2 375.9L1632.7 375.1L1626.6 371.4L1611.6 368.3L1605.5 363.8L1593.5 362.3L1590.5 356.3L1581.4 354.8L1566.4 354.0L1551.3 354.8L1536.3 358.6L1527.2 363.1L1519.7 366.8L1514.4 368.3L1507.7 364.6L1500.1 362.3L1495.6 355.5L1489.6 351.0Z" fill="#bbff3a"/><path d="M1505.4 317.9L1512.2 311.9L1516.7 306.6L1530.2 299.8L1542.3 293.8L1554.3 288.5L1558.9 286.3L1558.1 282.5L1561.9 283.3L1563.4 286.3L1572.4 287.8L1579.9 285.1L1586.0 289.3L1590.5 295.3L1589.0 298.3L1586.7 301.3L1587.5 307.3L1592.0 310.4L1595.0 316.4L1599.5 319.4L1603.3 323.9L1606.3 327.7L1607.0 334.5L1611.6 339.0L1610.1 345.0L1602.5 349.5L1595.0 350.3L1581.4 348.0L1566.4 348.8L1554.3 346.5L1545.3 340.5L1539.3 342.0L1530.2 340.5L1524.2 336.0L1527.2 329.9L1519.7 326.9L1512.2 325.4L1509.2 320.9ZM1606.3 327.7L1611.6 324.7L1619.1 323.2L1626.6 325.4L1635.7 325.4L1649.2 326.2L1656.7 323.9L1662.0 329.9L1653.0 336.7L1644.7 334.5L1640.2 330.7L1626.6 329.9L1620.6 326.9L1611.6 327.7L1607.0 333.0ZM1661.3 329.9L1670.3 325.4L1679.3 321.7L1685.4 323.2L1687.6 326.9L1680.8 329.9L1673.3 334.5L1668.8 340.5L1662.8 342.7L1660.5 337.5ZM1691.4 333.7L1701.9 328.4L1711.0 323.9L1714.0 321.2L1724.5 324.7L1726.0 329.9L1717.0 332.2L1708.0 336.0L1698.9 334.5L1694.4 337.5ZM1635.7 372.9L1647.7 372.1L1655.2 372.1L1649.2 375.9L1632.7 375.1L1626.6 371.4ZM1491.1 346.5L1498.6 342.0L1506.9 338.2L1503.9 345.0L1497.1 349.5L1492.6 352.5ZM1513.7 368.3L1519.7 363.8L1522.0 364.6L1516.7 369.1ZM1497.1 360.1L1499.4 359.3L1500.1 362.3L1497.9 363.1ZM1473.0 314.9L1483.6 315.6L1476.0 319.4ZM1576.2 261.4L1582.2 260.4L1583.7 263.7L1582.2 267.4L1578.4 265.2L1576.2 263.7ZM1488.1 296.5L1492.6 296.2L1492.3 297.7L1488.4 297.7ZM1516.7 306.1L1522.0 302.1L1522.7 304.3L1518.2 308.1Z" fill="#0099ff"/><path d="M1545.3 323.9L1554.3 319.4L1563.4 316.4L1572.4 314.9L1579.9 319.4L1580.7 323.9L1575.4 327.7L1563.4 326.9L1554.3 331.4L1548.3 330.7ZM1560.4 311.1L1564.1 308.1L1567.1 309.6L1564.9 312.6L1561.1 313.4ZM1528.0 322.4L1533.3 320.2L1537.8 322.4L1533.3 324.7ZM1586.0 335.2L1595.0 333.0L1602.5 336.0L1598.0 338.2L1589.0 337.5ZM1506.1 317.9L1512.2 313.4L1521.2 309.6L1528.0 308.9L1528.7 311.1L1522.7 313.4L1516.7 315.6L1510.7 320.9ZM1595.0 323.9L1599.5 320.2L1603.3 325.4L1599.5 328.4ZM1537.8 337.5L1542.3 336.0L1545.3 339.0L1540.8 341.2ZM1567.9 339.0L1570.9 338.5L1571.2 340.0L1568.2 340.2Z" fill="#bbff3a"/><path d="M1580.7 348.0L1582.2 342.7L1588.2 339.0L1598.0 340.5L1606.3 339.7L1611.6 343.5L1609.3 348.0L1600.3 350.7L1592.7 349.2L1585.2 348.0ZM1587.5 329.9L1589.7 329.6L1590.0 332.2L1587.8 332.2Z" fill="#0030ff"/><path d="M1583.7 342.7L1589.0 340.2L1598.0 341.7L1605.5 340.9L1609.8 343.8L1607.3 347.0L1599.5 349.2L1593.5 347.7L1585.2 346.2Z" fill="#00009a"/><path d="M1558.1 353.3L1563.4 351.0L1569.4 351.8L1568.6 354.5L1560.4 354.8ZM1572.4 353.3L1578.4 352.2L1580.7 354.0L1573.9 354.5ZM1594.2 357.8L1598.0 354.0L1602.5 351.0L1611.6 350.3L1618.3 351.8L1619.1 354.8L1613.1 357.8L1604.0 360.8L1596.5 360.1Z" fill="#ff9a00"/><path d="M1602.5 356.0L1605.5 354.5L1607.8 354.5L1606.3 356.3L1603.7 357.0ZM1610.1 353.3L1612.3 352.5L1613.1 354.0L1611.0 354.5Z" fill="#bbff3a"/><path d="M1606.3 331.4L1611.6 327.2L1620.6 326.6L1626.6 329.6L1640.2 330.4L1644.7 334.2L1638.7 337.2L1620.6 336.4L1611.6 335.7L1607.0 335.2ZM1650.0 330.7L1657.5 326.2L1660.5 329.9L1653.0 334.5ZM1715.5 342.0L1724.5 336.0L1735.1 333.3L1741.1 331.7L1746.4 335.2L1738.1 340.5L1726.0 344.7L1717.0 345.3Z" fill="#ffffff"/></g><g id="mapB2"><path d="M1271.3 498.9L1275.1 498.1L1290.1 492.1L1297.7 489.8L1312.7 487.1L1324.8 484.8L1338.3 483.0L1350.4 479.6L1365.4 474.8L1380.5 469.6L1388.0 466.9L1390.3 465.0L1385.0 460.5L1379.0 458.9L1368.4 460.5L1356.4 463.5L1346.6 465.0L1351.9 462.0L1362.4 456.7L1374.5 453.7L1388.0 447.7L1401.6 442.4L1416.6 438.6L1430.2 437.9L1443.7 434.1L1458.8 430.3L1470.8 428.1L1472.7 430.3L1467.8 435.6L1460.3 440.9L1453.5 445.4L1452.8 449.2L1443.7 455.2L1431.7 461.2L1431.7 465.0L1423.4 471.7L1425.7 477.8L1433.2 483.0L1425.7 486.8L1416.6 492.1L1403.1 492.1L1391.0 493.6L1380.5 492.8L1357.9 492.8L1341.3 492.5L1324.8 495.8L1309.7 498.1L1299.9 500.4L1282.6 499.6ZM1444.5 480.5L1454.3 474.8L1461.8 468.7L1469.3 461.2L1476.9 453.7L1479.9 456.7L1485.9 455.9L1494.9 458.2L1502.5 458.9L1508.5 465.0L1516.0 469.5L1522.0 474.0L1524.3 478.5L1516.0 482.3L1504.0 485.3L1498.0 484.5L1485.9 480.8L1479.9 479.3L1470.8 480.0L1461.8 480.8L1454.3 479.3Z" fill="#99ff66"/><path d="M1492.6 530.5L1500.1 526.0L1507.7 519.9L1510.7 513.9L1506.1 507.9L1506.9 501.9L1513.7 497.3L1518.2 492.1L1527.2 492.1L1533.3 488.3L1545.3 483.8L1554.3 479.3L1558.9 475.5L1563.4 478.5L1572.4 480.8L1578.4 482.3L1583.0 485.3L1581.4 489.8L1587.5 497.3L1593.5 506.4L1598.0 512.4L1602.5 518.4L1607.0 524.5L1614.6 524.5L1629.6 526.0L1643.2 521.4L1655.2 518.4L1662.8 515.4L1670.3 511.7L1679.3 509.4L1685.4 513.2L1695.9 513.9L1704.9 510.6L1718.5 510.2L1721.5 515.4L1726.0 517.7L1717.0 521.4L1712.5 524.5L1717.0 529.0L1726.0 532.0L1735.1 529.0L1747.1 526.7L1756.9 526.7L1751.6 532.0L1745.6 536.5L1735.1 541.0L1726.0 546.3L1718.5 549.3L1711.0 548.6L1695.9 548.6L1680.8 550.1L1665.8 550.8L1655.2 554.6L1649.2 556.8L1635.7 556.1L1623.6 556.1L1614.6 551.6L1605.5 545.5L1595.0 544.8L1590.5 539.5L1575.4 538.0L1566.4 538.8L1548.3 540.3L1536.3 542.5L1527.2 545.5L1518.2 549.3L1513.7 547.0L1500.1 544.0L1495.6 538.0L1491.1 535.0Z" fill="#0099ff"/><path d="M1506.1 507.9L1512.2 503.4L1521.2 500.4L1525.7 495.8L1527.2 492.1L1533.3 488.3L1545.3 483.8L1554.3 479.3L1558.9 475.5L1563.4 478.5L1572.4 480.8L1578.4 482.3L1583.0 485.3L1581.4 489.8L1587.5 497.3L1593.5 506.4L1598.0 512.4L1602.5 518.4L1607.0 524.5L1611.6 526.7L1605.5 530.5L1598.0 532.0L1590.5 529.0L1581.4 529.0L1575.4 532.0L1566.4 535.0L1557.3 532.0L1548.3 529.0L1540.8 524.5L1534.8 526.0L1528.7 530.5L1521.2 529.0L1519.7 521.4L1512.2 515.4L1510.7 513.9ZM1492.6 530.5L1500.1 526.0L1494.8 532.0L1491.8 535.0ZM1513.7 547.0L1518.2 546.3L1518.9 549.3ZM1658.3 524.5L1664.3 521.4L1668.8 523.0L1665.8 527.5L1659.8 528.2ZM1653.7 539.5L1659.8 533.5L1665.8 529.0L1667.3 533.5L1662.8 539.5L1656.7 543.3ZM1664.3 515.4L1670.3 511.7L1679.3 509.4L1685.4 513.2L1680.8 515.4L1673.3 514.7L1667.3 517.7ZM1686.9 517.7L1690.6 516.9L1692.9 521.4L1689.1 521.4ZM1700.4 515.4L1704.9 510.9L1718.5 510.2L1721.5 515.4L1711.0 517.7L1702.7 518.4Z" fill="#99ff66"/><path d="M1555.1 498.9L1560.4 495.1L1564.9 496.6L1564.1 501.9L1569.4 504.9L1575.4 507.9L1573.9 512.4L1566.4 513.9L1557.3 515.4L1549.8 516.2L1546.8 513.2L1551.3 509.4L1558.9 506.4L1557.3 501.9ZM1571.7 496.6L1574.7 495.1L1573.9 497.3ZM1561.9 525.2L1567.9 523.7L1573.9 525.2L1569.4 527.2L1563.4 527.5ZM1590.5 513.9L1595.0 512.4L1597.3 515.4L1592.0 516.9ZM1589.0 519.9L1595.0 518.4L1598.0 522.2L1590.5 523.7ZM1592.0 507.9L1595.0 507.1L1595.0 510.2Z" fill="#0099ff"/><path d="M1593.5 542.5L1596.5 538.0L1605.5 535.8L1616.8 537.3L1614.6 541.8L1605.5 544.8L1598.0 544.8ZM1524.2 537.7L1527.2 537.0L1527.5 538.5L1524.5 538.9Z" fill="#0055ff"/><path d="M1562.6 530.5L1572.4 529.7L1581.4 526.7L1586.0 525.2L1590.5 530.5L1595.0 533.5L1584.5 534.2L1575.4 532.7L1566.4 532.0Z" fill="#ff9a00"/><path d="M1582.2 529.0L1585.2 525.2L1595.0 526.7L1604.0 527.5L1603.3 531.2L1595.0 534.2L1586.0 534.2Z" fill="#ff2a00"/><path d="M1585.2 528.2L1589.0 526.7L1602.5 528.2L1601.8 531.2L1593.5 532.3L1586.0 531.2Z" fill="#8a0000"/></g></g>
<path d="M184.2 741.0H177.2V1049.0H848.8" fill="none" stroke="#4d4d4d" stroke-width="1.3"/>
<line x1="177.2" y1="741.0" x2="184.2" y2="741.0" stroke="#4d4d4d" stroke-width="1.3"/>
<text x="166.7" y="749.6" font-size="23.5" text-anchor="end" fill="#1a1a1a">2.5</text>
<line x1="177.2" y1="802.6" x2="184.2" y2="802.6" stroke="#4d4d4d" stroke-width="1.3"/>
<text x="166.7" y="811.2" font-size="23.5" text-anchor="end" fill="#1a1a1a">2</text>
<line x1="177.2" y1="864.2" x2="184.2" y2="864.2" stroke="#4d4d4d" stroke-width="1.3"/>
<text x="166.7" y="872.8" font-size="23.5" text-anchor="end" fill="#1a1a1a">1.5</text>
<line x1="177.2" y1="925.8" x2="184.2" y2="925.8" stroke="#4d4d4d" stroke-width="1.3"/>
<text x="166.7" y="934.4" font-size="23.5" text-anchor="end" fill="#1a1a1a">1</text>
<line x1="177.2" y1="987.4" x2="184.2" y2="987.4" stroke="#4d4d4d" stroke-width="1.3"/>
<text x="166.7" y="996.0" font-size="23.5" text-anchor="end" fill="#1a1a1a">0.5</text>
<line x1="177.2" y1="1049.0" x2="184.2" y2="1049.0" stroke="#4d4d4d" stroke-width="1.3"/>
<text x="166.7" y="1057.6" font-size="23.5" text-anchor="end" fill="#1a1a1a">0</text>
<line x1="177.2" y1="1049.0" x2="177.2" y2="1042.0" stroke="#4d4d4d" stroke-width="1.3"/>
<text x="177.2" y="1083.0" font-size="23.5" text-anchor="middle" fill="#1a1a1a">0</text>
<line x1="280.5" y1="1049.0" x2="280.5" y2="1042.0" stroke="#4d4d4d" stroke-width="1.3"/>
<text x="280.5" y="1083.0" font-size="23.5" text-anchor="middle" fill="#1a1a1a">20</text>
<line x1="383.8" y1="1049.0" x2="383.8" y2="1042.0" stroke="#4d4d4d" stroke-width="1.3"/>
<text x="383.8" y="1083.0" font-size="23.5" text-anchor="middle" fill="#1a1a1a">40</text>
<line x1="487.2" y1="1049.0" x2="487.2" y2="1042.0" stroke="#4d4d4d" stroke-width="1.3"/>
<text x="487.2" y="1083.0" font-size="23.5" text-anchor="middle" fill="#1a1a1a">60</text>
<line x1="590.5" y1="1049.0" x2="590.5" y2="1042.0" stroke="#4d4d4d" stroke-width="1.3"/>
<text x="590.5" y="1083.0" font-size="23.5" text-anchor="middle" fill="#1a1a1a">80</text>
<line x1="693.8" y1="1049.0" x2="693.8" y2="1042.0" stroke="#4d4d4d" stroke-width="1.3"/>
<text x="693.8" y="1083.0" font-size="23.5" text-anchor="middle" fill="#1a1a1a">100</text>
<line x1="797.1" y1="1049.0" x2="797.1" y2="1042.0" stroke="#4d4d4d" stroke-width="1.3"/>
<text x="797.1" y="1083.0" font-size="23.5" text-anchor="middle" fill="#1a1a1a">120</text>
<text x="178.4" y="737.6" font-size="30" fill="#1a1a1a">×</text>
<text x="198.2" y="734.6" font-size="23.5" fill="#1a1a1a">10<tspan dy="-12.4" font-size="18">-3</tspan></text>
<text x="112.0" y="1075.3" font-size="27" text-anchor="start" font-weight="bold" textLength="360.0" lengthAdjust="spacingAndGlyphs" transform="rotate(-90 112.0 1075.3)" fill="#1a1a1a">frequency * Power Spectral</text>
<text x="477.0" y="1118.3" font-size="27" text-anchor="start" font-weight="bold" textLength="71.3" lengthAdjust="spacingAndGlyphs" fill="#1a1a1a">years</text>
<polyline points="186.5,905.0 187.5,850.0 188.5,781.6 189.5,860.0 190.5,960.0 192.5,1046.0 197.0,1030.0 201.0,1005.0 205.0,973.6 209.0,998.0 214.0,1018.0 222.0,1031.0 230.0,1038.0 236.0,1024.0 241.0,1031.0 250.0,1028.0 284.0,1030.0 311.0,1034.0 337.0,1040.0 370.0,1042.5 822.8,1044.5" fill="none" stroke="#6e6e6e" stroke-width="1.1" stroke-dasharray="4 3"/>
<polyline points="186.5,935.0 188.6,905.0 190.0,990.0 192.5,1049.0 197.0,1042.0 202.0,1030.0 205.0,1018.0 209.0,1028.0 214.0,1036.0 222.0,1042.0 230.0,1046.0 236.0,1040.0 241.0,1042.0 250.0,1040.0 284.0,1041.0 311.0,1043.5 337.0,1046.5 370.0,1047.3 822.8,1048.0" fill="none" stroke="#6e6e6e" stroke-width="1.1" stroke-dasharray="4 3"/>
<polyline points="186.5,919.4 186.5,892.8 188.6,880.8 190.0,946.0 191.8,1048.2 196.6,1036.0 201.9,1020.0 205.0,1000.4 208.5,1015.0 213.8,1028.0 223.0,1037.5 230.5,1042.9 235.9,1032.0 241.0,1036.0 249.7,1033.0 284.0,1035.4 310.8,1038.9 337.0,1043.7 370.0,1045.0 480.0,1046.0 822.8,1046.7" fill="none" stroke="#00f000" stroke-width="8" stroke-linejoin="round" stroke-linecap="butt"/>
<polyline points="186.5,905.0 187.5,850.0 188.5,781.6 189.5,860.0 190.5,960.0 192.5,1046.0 197.0,1030.0 201.0,1005.0 205.0,973.6 209.0,998.0 214.0,1018.0 222.0,1031.0 230.0,1038.0 236.0,1024.0 241.0,1031.0 250.0,1028.0 284.0,1030.0 311.0,1034.0 337.0,1040.0 370.0,1042.5 822.8,1044.5" fill="none" stroke="#808080" stroke-width="1" stroke-dasharray="4 3"/>
<polyline points="186.5,935.0 188.6,905.0 190.0,990.0 192.5,1049.0 197.0,1042.0 202.0,1030.0 205.0,1018.0 209.0,1028.0 214.0,1036.0 222.0,1042.0 230.0,1046.0 236.0,1040.0 241.0,1042.0 250.0,1040.0 284.0,1041.0 311.0,1043.5 337.0,1046.5 370.0,1047.3 822.8,1048.0" fill="none" stroke="#808080" stroke-width="1" stroke-dasharray="4 3"/>
<polyline points="187.0,1043.0 200.0,1037.5 217.8,1031.4 232.0,1028.5 247.0,1027.0 268.0,1026.4 290.0,1027.0 318.7,1028.8 370.0,1032.2 430.0,1035.3 480.0,1037.0 560.0,1039.3 650.0,1041.0 740.0,1042.2 822.8,1042.9" fill="none" stroke="#ff0000" stroke-width="2" stroke-linejoin="round"/>
<path d="M1235.6 740.7H1228.6V1048.6H1900.2" fill="none" stroke="#4d4d4d" stroke-width="1.3"/>
<line x1="1228.6" y1="740.7" x2="1235.6" y2="740.7" stroke="#4d4d4d" stroke-width="1.3"/>
<text x="1218.0" y="749.3" font-size="23.5" text-anchor="end" fill="#1a1a1a">3</text>
<line x1="1228.6" y1="843.2" x2="1235.6" y2="843.2" stroke="#4d4d4d" stroke-width="1.3"/>
<text x="1218.0" y="851.8" font-size="23.5" text-anchor="end" fill="#1a1a1a">2</text>
<line x1="1228.6" y1="946.2" x2="1235.6" y2="946.2" stroke="#4d4d4d" stroke-width="1.3"/>
<text x="1218.0" y="954.8" font-size="23.5" text-anchor="end" fill="#1a1a1a">1</text>
<line x1="1228.6" y1="1048.6" x2="1235.6" y2="1048.6" stroke="#4d4d4d" stroke-width="1.3"/>
<text x="1218.0" y="1057.2" font-size="23.5" text-anchor="end" fill="#1a1a1a">0</text>
<line x1="1228.6" y1="1048.6" x2="1228.6" y2="1041.6" stroke="#4d4d4d" stroke-width="1.3"/>
<text x="1228.6" y="1083.0" font-size="23.5" text-anchor="middle" fill="#1a1a1a">0</text>
<line x1="1331.9" y1="1048.6" x2="1331.9" y2="1041.6" stroke="#4d4d4d" stroke-width="1.3"/>
<text x="1331.9" y="1083.0" font-size="23.5" text-anchor="middle" fill="#1a1a1a">20</text>
<line x1="1435.2" y1="1048.6" x2="1435.2" y2="1041.6" stroke="#4d4d4d" stroke-width="1.3"/>
<text x="1435.2" y="1083.0" font-size="23.5" text-anchor="middle" fill="#1a1a1a">40</text>
<line x1="1538.6" y1="1048.6" x2="1538.6" y2="1041.6" stroke="#4d4d4d" stroke-width="1.3"/>
<text x="1538.6" y="1083.0" font-size="23.5" text-anchor="middle" fill="#1a1a1a">60</text>
<line x1="1641.9" y1="1048.6" x2="1641.9" y2="1041.6" stroke="#4d4d4d" stroke-width="1.3"/>
<text x="1641.9" y="1083.0" font-size="23.5" text-anchor="middle" fill="#1a1a1a">80</text>
<line x1="1745.2" y1="1048.6" x2="1745.2" y2="1041.6" stroke="#4d4d4d" stroke-width="1.3"/>
<text x="1745.2" y="1083.0" font-size="23.5" text-anchor="middle" fill="#1a1a1a">100</text>
<line x1="1848.5" y1="1048.6" x2="1848.5" y2="1041.6" stroke="#4d4d4d" stroke-width="1.3"/>
<text x="1848.5" y="1083.0" font-size="23.5" text-anchor="middle" fill="#1a1a1a">120</text>
<text x="1229.5" y="737.6" font-size="30" fill="#1a1a1a">×</text>
<text x="1249.3" y="734.6" font-size="23.5" fill="#1a1a1a">10<tspan dy="-12.4" font-size="18">-4</tspan></text>
<text x="1181.5" y="1080.7" font-size="27" text-anchor="start" font-weight="bold" textLength="361.5" lengthAdjust="spacingAndGlyphs" transform="rotate(-90 1181.5 1080.7)" fill="#1a1a1a">frequency * Power Spectral</text>
<text x="1528.0" y="1118.3" font-size="27" text-anchor="start" font-weight="bold" textLength="71.4" lengthAdjust="spacingAndGlyphs" fill="#1a1a1a">years</text>
<polyline points="1238.0,900.0 1238.5,830.0 1239.2,763.8 1240.0,860.0 1241.0,980.0 1243.5,1044.0 1249.0,1020.0 1253.0,960.0 1256.6,926.8 1260.0,955.0 1264.0,995.0 1269.5,986.0 1275.0,996.0 1281.5,1016.0 1287.5,992.0 1293.0,998.0 1300.5,986.0 1311.0,996.0 1321.6,1006.0 1336.4,991.0 1347.0,1003.0 1358.4,1014.0 1390.0,1029.0 1444.0,1028.5 1551.5,1024.5 1700.0,1028.5 1874.0,1032.5" fill="none" stroke="#6e6e6e" stroke-width="1.1" stroke-dasharray="4 3"/>
<polyline points="1238.0,930.0 1239.5,900.0 1241.0,1000.0 1243.5,1049.0 1250.0,1040.0 1254.0,1015.0 1256.6,1003.0 1260.0,1012.0 1264.0,1030.0 1269.5,1027.0 1275.0,1031.0 1281.5,1038.0 1287.5,1029.0 1293.0,1031.0 1300.5,1027.0 1311.0,1031.0 1321.6,1035.0 1336.4,1029.0 1347.0,1033.0 1358.4,1037.0 1390.0,1042.0 1444.0,1042.0 1551.5,1041.0 1700.0,1042.3 1874.0,1043.6" fill="none" stroke="#6e6e6e" stroke-width="1.1" stroke-dasharray="4 3"/>
<polyline points="1238.0,914.6 1238.3,890.0 1239.5,869.8 1240.7,966.0 1243.3,1047.6 1250.2,1030.5 1254.0,988.7 1256.6,970.5 1259.7,983.0 1263.5,1013.4 1269.2,1008.5 1274.9,1015.3 1281.3,1027.4 1287.4,1010.7 1293.1,1015.3 1300.3,1006.6 1310.9,1013.4 1321.6,1021.0 1336.4,1010.4 1347.0,1017.2 1358.4,1024.8 1390.0,1035.0 1443.9,1035.3 1551.5,1032.7 1700.0,1035.5 1874.0,1038.4" fill="none" stroke="#00f000" stroke-width="8" stroke-linejoin="round" stroke-linecap="butt"/>
<polyline points="1238.0,900.0 1238.5,830.0 1239.2,763.8 1240.0,860.0 1241.0,980.0 1243.5,1044.0 1249.0,1020.0 1253.0,960.0 1256.6,926.8 1260.0,955.0 1264.0,995.0 1269.5,986.0 1275.0,996.0 1281.5,1016.0 1287.5,992.0 1293.0,998.0 1300.5,986.0 1311.0,996.0 1321.6,1006.0 1336.4,991.0 1347.0,1003.0 1358.4,1014.0 1390.0,1029.0 1444.0,1028.5 1551.5,1024.5 1700.0,1028.5 1874.0,1032.5" fill="none" stroke="#808080" stroke-width="1" stroke-dasharray="4 3"/>
<polyline points="1238.0,930.0 1239.5,900.0 1241.0,1000.0 1243.5,1049.0 1250.0,1040.0 1254.0,1015.0 1256.6,1003.0 1260.0,1012.0 1264.0,1030.0 1269.5,1027.0 1275.0,1031.0 1281.5,1038.0 1287.5,1029.0 1293.0,1031.0 1300.5,1027.0 1311.0,1031.0 1321.6,1035.0 1336.4,1029.0 1347.0,1033.0 1358.4,1037.0 1390.0,1042.0 1444.0,1042.0 1551.5,1041.0 1700.0,1042.3 1874.0,1043.6" fill="none" stroke="#808080" stroke-width="1" stroke-dasharray="4 3"/>
<polyline points="1238.0,1045.0 1265.0,1036.0 1292.0,1027.4 1330.0,1017.2 1360.3,1013.4 1390.7,1010.7 1442.7,1009.2 1551.0,1012.0 1700.0,1018.5 1874.0,1024.5" fill="none" stroke="#ff0000" stroke-width="2" stroke-linejoin="round"/>
</svg>
</body></html>
